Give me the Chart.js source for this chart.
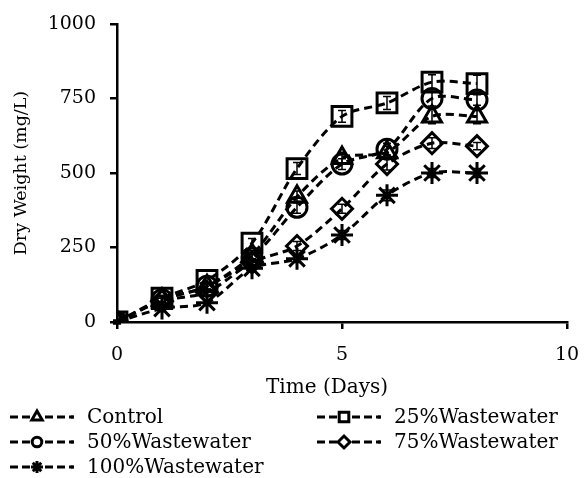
<!DOCTYPE html>
<html><head><meta charset="utf-8">
<script src="https://cdn.jsdelivr.net/npm/chart.js@4/dist/chart.umd.min.js"></script>
<style>html,body{margin:0;padding:0;background:#fff;}</style>
</head><body>
<canvas id="c" width="584" height="478"></canvas>
<script>
const days = [0, 1, 2, 3, 4, 5, 6, 7, 8];
const controlVals = [0, 75, 120, 225, 420, 550, 570, 690, 690];
const ww25Vals = [0, 80, 140, 265, 515, 690, 735, 805, 800];
const ww50Vals = [0, 75, 120, 215, 385, 530, 580, 750, 745];
const ww75Vals = [0, 70, 100, 200, 255, 380, 530, 600, 590];
const ww100Vals = [0, 45, 65, 180, 212, 292, 425, 500, 500];
const controlErr = [5, 10, 10, 15, 20, 20, 20, 25, 25];
const ww25Err = [5, 10, 12, 15, 20, 20, 22, 25, 28];
const ww50Err = [5, 10, 10, 15, 20, 18, 20, 25, 18];
const ww75Err = [5, 10, 10, 12, 15, 15, 20, 18, 12];
const ww100Err = [5, 8, 8, 12, 12, 15, 18, 15, 15];
const seriesLabels = ['Control', '25%Wastewater', '50%Wastewater', '75%Wastewater', '100%Wastewater'];
const yTicks = [0, 250, 500, 750, 1000];
const xTicks = [0, 5, 10];
const xTitle = 'Time (Days)';
const yTitle = 'Dry Weight (mg/L)';

const FONT = "'DejaVu Serif', serif";
const styles = [
  {pointStyle: 'triangle', r: 11},
  {pointStyle: 'rect', r: 14},
  {pointStyle: 'circle', r: 10},
  {pointStyle: 'rectRot', r: 10.5},
  {pointStyle: 'star', r: 11}
];
const allVals = [controlVals, ww25Vals, ww50Vals, ww75Vals, ww100Vals];
const allErr = [controlErr, ww25Err, ww50Err, ww75Err, ww100Err];

const datasets = allVals.map((vals, i) => ({
  label: seriesLabels[i],
  data: days.map((d, j) => ({x: d, y: vals[j]})),
  borderColor: '#000',
  backgroundColor: 'rgba(255,255,255,0)',
  borderWidth: 3,
  borderDash: [8, 5],
  pointStyle: styles[i].pointStyle,
  pointRadius: styles[i].r,
  pointHoverRadius: styles[i].r,
  pointBorderWidth: 3,
  pointBorderColor: '#000',
  pointBackgroundColor: 'rgba(255,255,255,0)',
  tension: 0.3,
  fill: false,
  errors: allErr[i]
}));

const errorBars = {
  id: 'errorBars',
  afterDatasetsDraw(chart) {
    const ctx = chart.ctx;
    const ys = chart.scales.y;
    ctx.save();
    ctx.strokeStyle = '#000';
    ctx.lineWidth = 1.5;
    chart.data.datasets.forEach((ds, i) => {
      const meta = chart.getDatasetMeta(i);
      meta.data.forEach((pt, j) => {
        const v = ds.data[j].y, e = ds.errors[j];
        const x = pt.x;
        const y1 = ys.getPixelForValue(v - e), y2 = ys.getPixelForValue(v + e);
        ctx.beginPath();
        ctx.moveTo(x, y1); ctx.lineTo(x, y2);
        ctx.moveTo(x - 4, y1); ctx.lineTo(x + 4, y1);
        ctx.moveTo(x - 4, y2); ctx.lineTo(x + 4, y2);
        ctx.stroke();
      });
    });
    ctx.restore();
  }
};

function drawMarker(ctx, style, r, x, y) {
  ctx.beginPath();
  if (style === 'triangle') {
    ctx.moveTo(x, y - r); ctx.lineTo(x + r * 0.87, y + r * 0.5); ctx.lineTo(x - r * 0.87, y + r * 0.5); ctx.closePath();
  } else if (style === 'rect') {
    const s = r * 0.8; ctx.rect(x - s, y - s, 2 * s, 2 * s);
  } else if (style === 'circle') {
    ctx.arc(x, y, r * 0.8, 0, Math.PI * 2);
  } else if (style === 'rectRot') {
    ctx.moveTo(x - r, y); ctx.lineTo(x, y - r); ctx.lineTo(x + r, y); ctx.lineTo(x, y + r); ctx.closePath();
  } else {
    for (let k = 0; k < 4; k++) {
      const a = k * Math.PI / 4;
      ctx.moveTo(x - Math.cos(a) * r, y - Math.sin(a) * r);
      ctx.lineTo(x + Math.cos(a) * r, y + Math.sin(a) * r);
    }
  }
  ctx.fill();
  ctx.stroke();
}

const customLegend = {
  id: 'customLegend',
  afterDraw(chart) {
    const ctx = chart.ctx;
    ctx.save();
    ctx.fillStyle = '#000';
    ctx.font = '20px ' + FONT;
    ctx.textAlign = 'center';
    ctx.textBaseline = 'middle';
    ctx.fillText(xTitle, 327, 388);
    ctx.restore();

    const cols = [10, 317];
    const rows = [417, 442, 467];
    chart.data.datasets.forEach((ds, i) => {
      const x = cols[i % 2], y = rows[Math.floor(i / 2)];
      ctx.save();
      ctx.strokeStyle = '#000';
      ctx.fillStyle = '#fff';
      ctx.lineWidth = 3;
      ctx.setLineDash([8, 4]);
      ctx.beginPath(); ctx.moveTo(x, y); ctx.lineTo(x + 20, y); ctx.stroke();
      ctx.beginPath(); ctx.moveTo(x + 35, y); ctx.lineTo(x + 64, y); ctx.stroke();
      ctx.setLineDash([]);
      ctx.beginPath(); ctx.moveTo(x + 61, y); ctx.lineTo(x + 63.5, y); ctx.stroke();
      drawMarker(ctx, ds.pointStyle, 6, x + 27, y);
      ctx.fillStyle = '#000';
      ctx.font = '20px ' + FONT;
      ctx.textBaseline = 'middle';
      ctx.textAlign = 'left';
      ctx.fillText(ds.label, x + 77, y + 1);
      ctx.restore();
    });
  }
};

new Chart(document.getElementById('c'), {
  type: 'line',
  data: {datasets},
  options: {
    responsive: false,
    animation: false,
    events: [],
    layout: {padding: {left: 11, right: 15, top: 24, bottom: 106}},
    plugins: {legend: {display: false}, tooltip: {enabled: false}},
    scales: {
      x: {
        type: 'linear', min: 0, max: 10,
        afterBuildTicks: s => { s.ticks = xTicks.map(v => ({value: v})); },
        afterFit: s => { s.height = 478 - 322 - 106; s.paddingRight = 10; s.paddingLeft = 0; },
        grid: {display: true, drawOnChartArea: false, drawTicks: true, tickLength: 7, color: '#000', lineWidth: 2.5},
        border: {display: true, color: '#000', width: 2.5},
        ticks: {color: '#000', font: {family: FONT, size: 19}, padding: 15, maxRotation: 0, callback: v => String(v)}
      },
      y: {
        type: 'linear', min: 0, max: 1000,
        afterBuildTicks: s => { s.ticks = yTicks.map(v => ({value: v})); },
        afterFit: s => { s.width = 117 - 11; s.paddingTop = 10; s.paddingBottom = 0; },
        grid: {display: true, drawOnChartArea: false, drawTicks: true, tickLength: 7, color: '#000', lineWidth: 2.5},
        border: {display: true, color: '#000', width: 2.5},
        ticks: {color: '#000', font: {family: FONT, size: 19}, padding: 14, callback: v => String(v)},
        title: {display: true, text: yTitle, color: '#000', font: {family: FONT, size: 17.5}, padding: {top: 0, bottom: 0}}
      }
    }
  },
  plugins: [errorBars, customLegend]
});
</script>
</body></html>
